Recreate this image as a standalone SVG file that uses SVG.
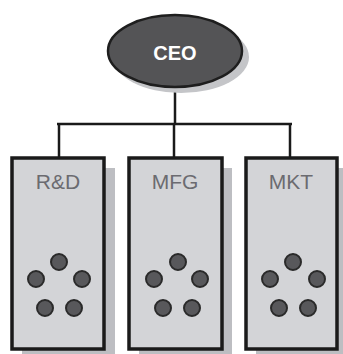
<svg xmlns="http://www.w3.org/2000/svg" width="343" height="354" viewBox="0 0 343 354">
<style>
.shadow{fill:#bdbec2}
.box{fill:#d3d4d7;stroke:#1a1a1a;stroke-width:3.5}
.lbl{font-family:"Liberation Sans",Arial,sans-serif;font-size:21px;fill:#6b6b70;text-anchor:middle}
.dot{fill:#58585b;stroke:#2a2a2a;stroke-width:2}
.conn{stroke:#1a1a1a;stroke-width:2.5;fill:none}
</style>
<rect width="343" height="354" fill="#ffffff"/>
<g id="connectors">
<line class="conn" x1="175" y1="86" x2="175" y2="124"/>
<line class="conn" x1="57" y1="124" x2="292" y2="124"/>
<line class="conn" x1="59" y1="124" x2="59" y2="158"/>
<line class="conn" x1="174" y1="124" x2="174" y2="158"/>
<line class="conn" x1="290" y1="124" x2="290" y2="158"/>
</g>
<g id="ceo">
<ellipse cx="181" cy="57" rx="68" ry="36" fill="#c4c5c8"/>
<ellipse cx="175" cy="51" rx="67" ry="36" fill="#545456" stroke="#1e1e1e" stroke-width="2.5"/>
<text x="175" y="60" font-family="'Liberation Sans',Arial,sans-serif" font-size="20" font-weight="bold" fill="#ffffff" text-anchor="middle">CEO</text>
</g>
<g id="rnd">
<rect class="shadow" x="22" y="168" width="93" height="191"/>
<rect class="box" x="12" y="158" width="92" height="191"/>
<text class="lbl" x="58" y="189">R&amp;D</text>
<circle class="dot" cx="59" cy="262" r="8"/>
<circle class="dot" cx="36" cy="279" r="8"/>
<circle class="dot" cx="82" cy="279" r="8"/>
<circle class="dot" cx="45" cy="308" r="8"/>
<circle class="dot" cx="74" cy="308" r="8"/>
</g>
<g id="mfg">
<rect class="shadow" x="139" y="168" width="93" height="191"/>
<rect class="box" x="129" y="158" width="93" height="191"/>
<text class="lbl" x="175" y="189">MFG</text>
<circle class="dot" cx="178" cy="262" r="8"/>
<circle class="dot" cx="154" cy="279" r="8"/>
<circle class="dot" cx="200" cy="279" r="8"/>
<circle class="dot" cx="163" cy="308" r="8"/>
<circle class="dot" cx="192" cy="308" r="8"/>
</g>
<g id="mkt">
<rect class="shadow" x="256" y="168" width="87" height="191"/>
<rect class="box" x="246" y="158" width="91" height="191"/>
<text class="lbl" x="291" y="189">MKT</text>
<circle class="dot" cx="293" cy="262" r="8"/>
<circle class="dot" cx="270" cy="279" r="8"/>
<circle class="dot" cx="317" cy="279" r="8"/>
<circle class="dot" cx="279" cy="308" r="8"/>
<circle class="dot" cx="308" cy="308" r="8"/>
</g>
</svg>
